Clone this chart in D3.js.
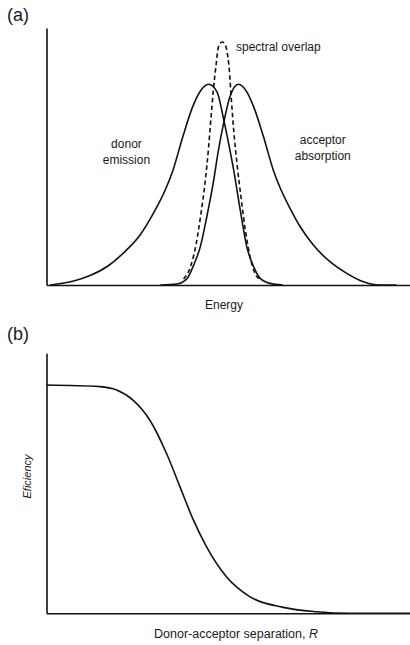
<!DOCTYPE html>
<html>
<head>
<meta charset="utf-8">
<script src="https://cdn.jsdelivr.net/npm/d3@7"></script>
<style>
  html, body { margin: 0; padding: 0; background: #fff; }
  svg { display: block; }
  text { font-family: "Liberation Sans", Arial, Helvetica, sans-serif; fill: #1a1a1a; }
</style>
</head>
<body>
<svg id="fig" width="410" height="645"></svg>
<script>
// Panel (a): spectra against energy (arbitrary units, 0-100), normalised intensity
const donorEnergy    = [1.0, 7.5, 12.0, 16.7, 21.2, 25.8, 29.5, 32.9, 34.8, 37.5, 40.2, 42.3, 44.6, 46.9, 48.7, 50.1, 51.5, 53.3, 55.1, 57.0, 58.8, 61.5, 65.0];
const donorIntensity = [0, 0.02, 0.047, 0.092, 0.16, 0.25, 0.36, 0.483, 0.572, 0.738, 0.887, 0.965, 1.0, 0.962, 0.829, 0.705, 0.572, 0.373, 0.19, 0.091, 0.033, 0.008, 0];

const acceptorEnergy    = [31.3, 35.9, 38.7, 40.5, 42.3, 44.1, 46.0, 47.3, 48.7, 50.5, 52.8, 55.1, 57.0, 59.7, 62.4, 64.3, 67.0, 69.8, 73.4, 78.0, 82.6, 87.2, 91.8, 96.3];
const acceptorIntensity = [0, 0.005, 0.033, 0.10, 0.19, 0.34, 0.522, 0.672, 0.804, 0.94, 1.0, 0.962, 0.887, 0.738, 0.572, 0.483, 0.382, 0.29, 0.199, 0.116, 0.058, 0.016, 0, 0];

const overlapEnergy    = [37.7, 39.6, 41.2, 42.5, 43.7, 44.6, 45.2, 45.9, 46.7, 47.3, 48.3, 48.9, 49.6, 50.3, 50.8, 51.5, 52.4, 53.5, 54.7, 56.0, 57.9, 58.8];
const overlapIntensity = [0.03, 0.091, 0.207, 0.357, 0.522, 0.688, 0.821, 0.97, 1.103, 1.186, 1.21, 1.204, 1.169, 1.07, 0.937, 0.771, 0.605, 0.439, 0.274, 0.141, 0.041, 0.03];

// Panel (b): transfer efficiency against donor-acceptor separation (0-100)
const separation = [0, 14.7, 19.3, 23.8, 28.4, 33.0, 36.7, 40.4, 44.0, 49.5, 55.9, 65.1, 74.3, 83.5, 100];
const efficiency = [1.0, 0.993, 0.978, 0.934, 0.847, 0.701, 0.555, 0.409, 0.292, 0.160, 0.073, 0.026, 0.007, 0.0, 0.0];

const panelLabels = ["(a)", "(b)"];
const spectraLabels = [
  { lines: ["donor", "emission"], energy: 22, level: 0.68 },
  { lines: ["acceptor", "absorption"], energy: 76, level: 0.70 }
];

const svg = d3.select("#fig");
const ink = "#111";

function zip(xs, ys) { return xs.map((x, i) => [x, ys[i]]); }

function drawAxes(g, x, y) {
  g.append("g")
    .attr("transform", `translate(0,${y.range()[0]})`)
    .call(d3.axisBottom(x).ticks(0).tickSizeOuter(0))
    .call(a => a.select(".domain").attr("stroke", ink).attr("stroke-width", 1.6));
  g.append("g")
    .attr("transform", `translate(${x.range()[0]},0)`)
    .call(d3.axisLeft(y).ticks(0).tickSizeOuter(0))
    .call(a => a.select(".domain").attr("stroke", ink).attr("stroke-width", 1.6));
}

// ---- Panel (a)
const xa = d3.scaleLinear().domain([0, 100]).range([46.5, 410]);
const ya = d3.scaleLinear().domain([0, 1.28]).range([285, 28]);
const ga = svg.append("g");
drawAxes(ga, xa, ya);

const lineA = d3.line().x(d => xa(d[0])).y(d => ya(d[1])).curve(d3.curveMonotoneX);

ga.append("path").datum(zip(donorEnergy, donorIntensity))
  .attr("d", lineA).attr("fill", "none").attr("stroke", ink).attr("stroke-width", 1.6);
ga.append("path").datum(zip(acceptorEnergy, acceptorIntensity))
  .attr("d", lineA).attr("fill", "none").attr("stroke", ink).attr("stroke-width", 1.6);
ga.append("path").datum(zip(overlapEnergy, overlapIntensity))
  .attr("d", lineA).attr("fill", "none").attr("stroke", ink).attr("stroke-width", 1.6)
  .attr("stroke-dasharray", "4.5,3");

spectraLabels.forEach(s => {
  const t = ga.append("text")
    .attr("x", xa(s.energy)).attr("y", ya(s.level))
    .attr("text-anchor", "middle").attr("font-size", 12);
  s.lines.forEach((ln, i) => t.append("tspan").attr("x", xa(s.energy)).attr("dy", i ? 15.5 : 0).text(ln));
});

ga.append("text").attr("x", 236).attr("y", 50.5).attr("font-size", 12).text("spectral overlap");
ga.append("text").attr("x", 224).attr("y", 308.5).attr("text-anchor", "middle").attr("font-size", 12).text("Energy");
ga.append("text").attr("x", 7).attr("y", 21).attr("font-size", 18).text(panelLabels[0]);

// ---- Panel (b)
const xb = d3.scaleLinear().domain([0, 100]).range([46.5, 410]);
const yb = d3.scaleLinear().domain([0, 1.139]).range([613.3, 353.3]);
const gb = svg.append("g");
drawAxes(gb, xb, yb);

const lineB = d3.line().x(d => xb(d[0])).y(d => yb(d[1])).curve(d3.curveMonotoneX);
gb.append("path").datum(zip(separation, efficiency))
  .attr("d", lineB).attr("fill", "none").attr("stroke", ink).attr("stroke-width", 1.6);

gb.append("text").attr("x", 7).attr("y", 339.5).attr("font-size", 18).text(panelLabels[1]);

const xl = gb.append("text").attr("x", 236).attr("y", 637.5)
  .attr("text-anchor", "middle").attr("font-size", 12.5);
xl.append("tspan").text("Donor-acceptor separation, ");
xl.append("tspan").attr("font-style", "italic").text("R");

gb.append("text")
  .attr("transform", "translate(30.5,476.5) rotate(-90)")
  .attr("text-anchor", "middle").attr("font-size", 11).attr("font-style", "italic")
  .text("Eficiency");
</script>
</body>
</html>
